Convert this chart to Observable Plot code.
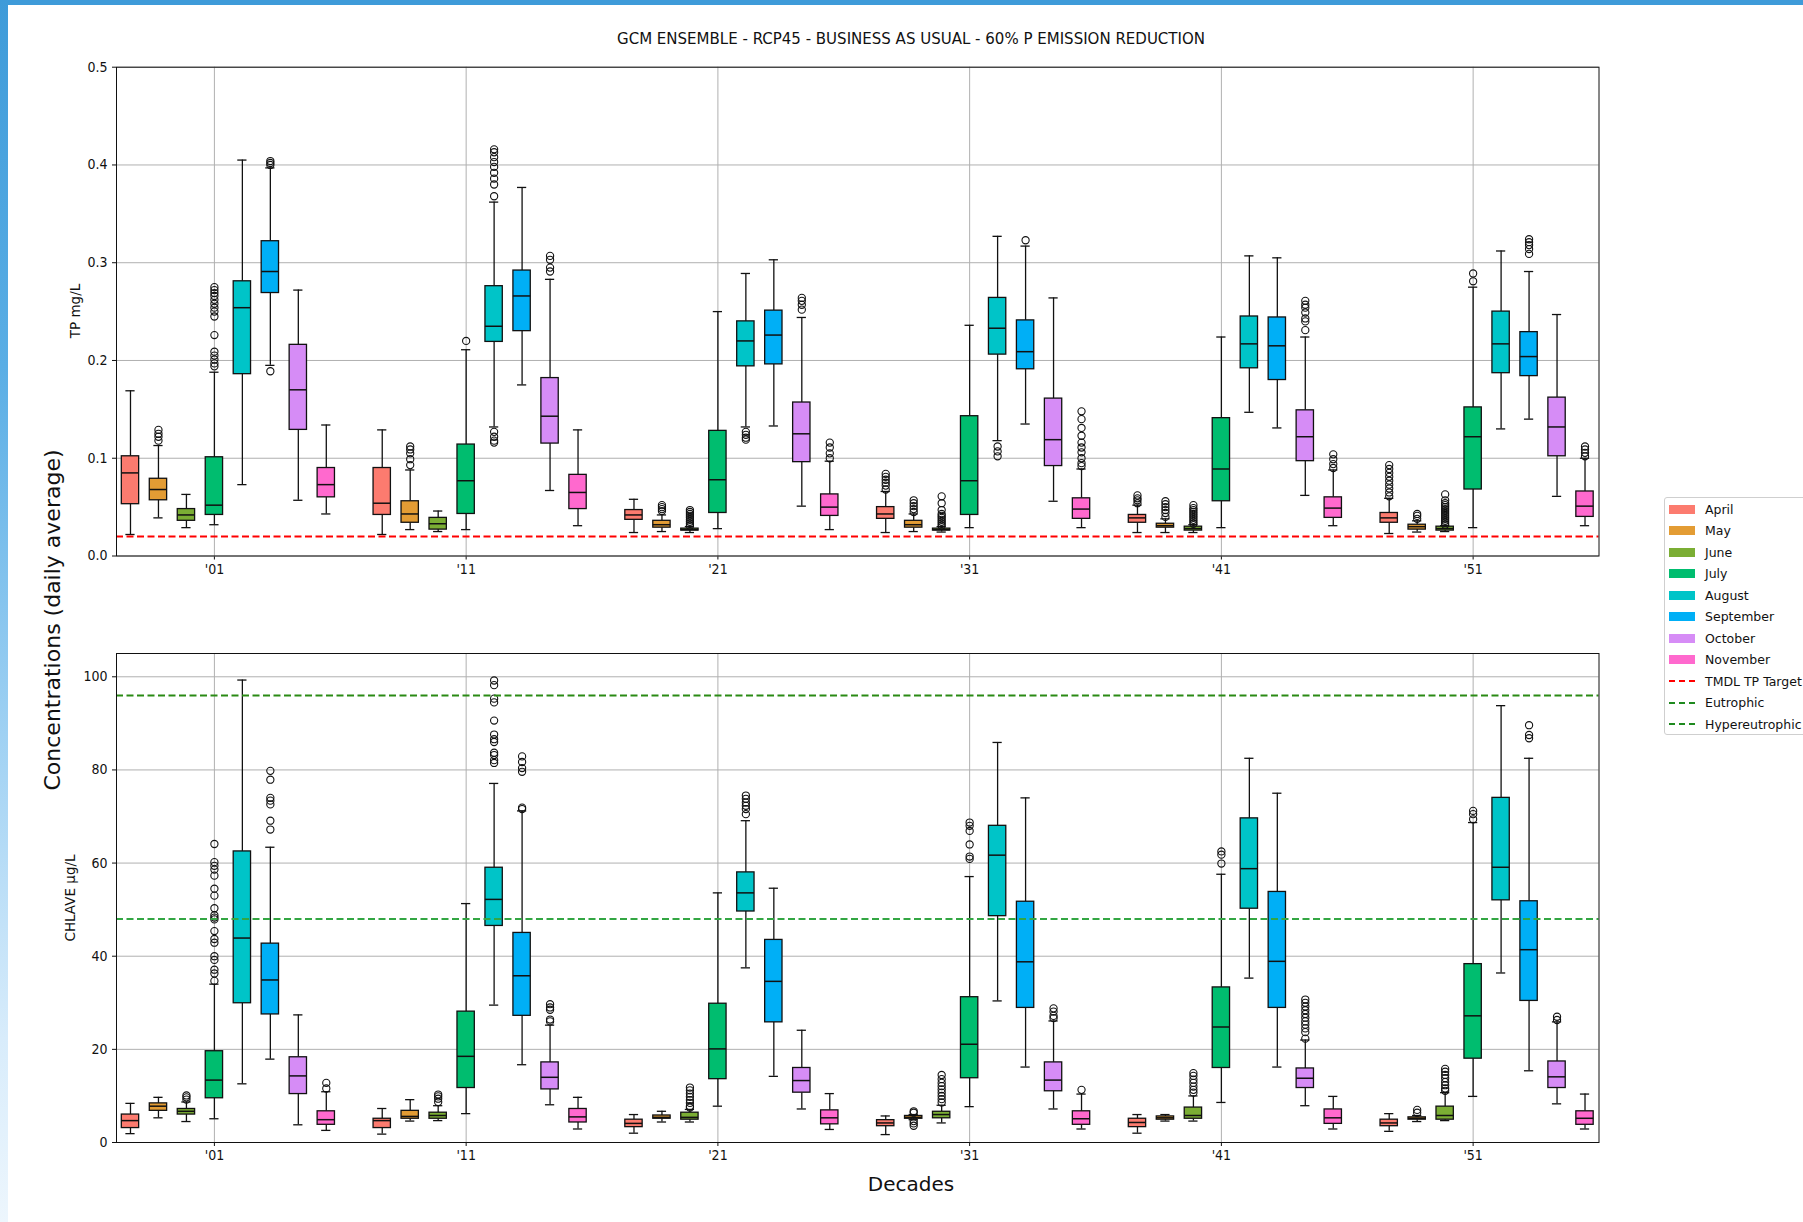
<!DOCTYPE html>
<html>
<head>
<meta charset="utf-8">
<script src="https://cdn.jsdelivr.net/npm/d3@7"></script>
<script src="https://cdn.jsdelivr.net/npm/@observablehq/plot@0.6"></script>
<style>
  html, body { margin: 0; padding: 0; }
  body { width: 1803px; height: 1222px; overflow: hidden; background: #fff; position: relative;
         font-family: "DejaVu Sans", sans-serif; color: #111; }
  #topbar { position: absolute; left: 0; top: 0; width: 1803px; height: 5px; background: #3e9bd9; }
  #leftbar { position: absolute; left: 0; top: 0; width: 8px; height: 1222px;
             background: linear-gradient(#3e9bd9 0%, #5aaee5 30%, #9fd1f3 60%, #d8ecfb 85%, #edf6fd 100%); }
  .cond { font-family: "DejaVu Sans Condensed", "DejaVu Sans", sans-serif; font-stretch: condensed; }
  #title { position: absolute; left: 911px; top: 38px; transform: translate(-50%, -50%); font-size: 16.7px; white-space: nowrap; }
  .rot { position: absolute; transform: translate(-50%, -50%) rotate(-90deg); white-space: nowrap; }
  #ylab { left: 52px; top: 620px; font-size: 22px; }
  .plab { font-size: 13.5px; }
  #xlab { position: absolute; left: 911px; top: 1184px; transform: translate(-50%, -50%); font-size: 20px; white-space: nowrap; }
  .panel { position: absolute; left: 0; }
  #legend { position: absolute; left: 1664px; top: 497px; width: 170px; height: 238px; border: 1px solid #cfcfcf;
            border-radius: 3px; background: #fff; box-sizing: border-box; }
  .item { position: absolute; left: 4px; height: 20px; display: flex; align-items: center; font-size: 12.5px; white-space: nowrap; }
  .sw { width: 26px; height: 9px; margin-right: 10px; }
  .dash { width: 26px; height: 0; border-top: 2px dashed; margin-right: 10px; }
</style>
</head>
<body>
<div id="topbar"></div>
<div id="leftbar"></div>
<div id="title" class="cond">GCM ENSEMBLE - RCP45 - BUSINESS AS USUAL - 60% P EMISSION REDUCTION</div>
<div id="panelTop" class="panel" style="top:40px"></div>
<div id="panelBottom" class="panel" style="top:620px"></div>
<div id="ylab" class="rot">Concentrations (daily average)</div>
<div class="rot plab" style="left:75px; top:311px">TP mg/L</div>
<div class="rot plab" style="left:70px; top:898px">CHLAVE µg/L</div>
<div id="xlab">Decades</div>
<div id="legend"></div>
<script>
// ---------- categories ----------
const months = ["April", "May", "June", "July", "August", "September", "October", "November"];
const monthColors = ["#fc7b6f", "#e39c34", "#7bae34", "#00bd6f", "#00c4c8", "#00aff6", "#d68cf6", "#ff69ce"];
const decades = ["'01", "'11", "'21", "'31", "'41", "'51"];
const tpTicks = [0, 0.1, 0.2, 0.3, 0.4, 0.5];
const chlTicks = [0, 20, 40, 60, 80, 100];
const tmdlTarget = [0.02];
const eutrophic = [48];
const hypereutrophic = [96];

// ---------- TP mg/L : [whisker low, Q1, median, Q3, whisker high] per decade ----------
const tpApril = [[0.022,0.053,0.085,0.102,0.169],[0.022,0.042,0.054,0.090,0.129],[0.024,0.037,0.042,0.047,0.058],[0.024,0.038,0.043,0.050,0.066],[0.024,0.034,0.039,0.042,0.052],[0.023,0.034,0.039,0.044,0.059]];
const tpMay = [[0.039,0.057,0.068,0.079,0.113],[0.027,0.034,0.043,0.056,0.088],[0.025,0.029,0.032,0.036,0.042],[0.025,0.029,0.032,0.036,0.043],[0.024,0.029,0.031,0.033,0.038],[0.0245,0.027,0.030,0.032,0.036]];
const tpJune = [[0.029,0.036,0.042,0.048,0.063],[0.025,0.027,0.033,0.039,0.046],[0.024,0.026,0.027,0.028,0.030],[0.0245,0.026,0.027,0.028,0.030],[0.024,0.026,0.028,0.030,0.032],[0.025,0.026,0.028,0.030,0.031]];
const tpJuly = [[0.032,0.042,0.052,0.101,0.188],[0.027,0.043,0.077,0.114,0.211],[0.028,0.044,0.078,0.128,0.250],[0.029,0.042,0.077,0.143,0.236],[0.029,0.056,0.089,0.141,0.224],[0.029,0.068,0.122,0.152,0.275]];
const tpAugust = [[0.073,0.186,0.254,0.281,0.405],[0.132,0.219,0.235,0.276,0.362],[0.132,0.194,0.220,0.240,0.289],[0.118,0.206,0.233,0.264,0.327],[0.147,0.192,0.217,0.245,0.307],[0.130,0.187,0.217,0.250,0.312]];
const tpSeptember = [[0.195,0.269,0.291,0.322,0.397],[0.175,0.230,0.266,0.292,0.377],[0.133,0.196,0.226,0.251,0.303],[0.135,0.191,0.209,0.241,0.317],[0.131,0.180,0.215,0.244,0.305],[0.140,0.184,0.204,0.229,0.291]];
const tpOctober = [[0.057,0.129,0.170,0.216,0.272],[0.067,0.115,0.143,0.182,0.283],[0.051,0.096,0.125,0.157,0.244],[0.056,0.092,0.119,0.161,0.264],[0.062,0.097,0.122,0.149,0.224],[0.061,0.102,0.132,0.162,0.247]];
const tpNovember = [[0.043,0.060,0.073,0.090,0.134],[0.031,0.048,0.065,0.083,0.129],[0.027,0.041,0.050,0.063,0.097],[0.029,0.038,0.048,0.059,0.089],[0.031,0.039,0.049,0.060,0.088],[0.031,0.040,0.051,0.066,0.100]];

// ---------- TP outliers per decade ----------
const tpAprilOut = [[],[],[],[0.068,0.072,0.075,0.078,0.081,0.084],[0.054,0.057,0.059,0.062],[0.061,0.065,0.069,0.073,0.077,0.081,0.085,0.089,0.093]];
const tpMayOut = [[0.118,0.122,0.125,0.129],[0.093,0.099,0.105,0.109,0.112],[0.046,0.048,0.050,0.052],[0.045,0.048,0.051,0.054,0.057],[0.040,0.044,0.047,0.050,0.053,0.056],[0.038,0.041,0.043]];
const tpJuneOut = [[],[],[0.031,0.033,0.035,0.037,0.039,0.041,0.043,0.045,0.047],[0.031,0.033,0.035,0.037,0.039,0.041,0.043,0.047,0.054,0.061],[0.033,0.035,0.037,0.039,0.041,0.043,0.045,0.047,0.049,0.052],[0.032,0.034,0.036,0.038,0.040,0.042,0.044,0.046,0.048,0.050,0.052,0.054,0.057,0.063]];
const tpJulyOut = [[0.194,0.197,0.201,0.205,0.209,0.226,0.245,0.250,0.254,0.258,0.262,0.266,0.269,0.272,0.275],[0.220],[],[],[],[0.281,0.289]];
const tpAugustOut = [[],[0.116,0.118,0.122,0.127,0.368,0.380,0.386,0.392,0.398,0.403,0.408,0.413,0.416],[0.119,0.121,0.124,0.127],[0.102,0.107,0.112],[],[]];
const tpSeptemberOut = [[0.189,0.400,0.402,0.404],[],[],[0.323],[],[0.309,0.314,0.318,0.321,0.324]];
const tpOctoberOut = [[],[0.291,0.295,0.303,0.307],[0.252,0.257,0.261,0.264],[],[0.231,0.240,0.243,0.249,0.254,0.257,0.261],[]];
const tpNovemberOut = [[],[],[0.100,0.105,0.111,0.116],[0.092,0.095,0.100,0.106,0.111,0.116,0.123,0.131,0.140,0.148],[0.090,0.094,0.099,0.104],[0.102,0.1055,0.109,0.112]];

// ---------- CHLAVE µg/L : [whisker low, Q1, median, Q3, whisker high] per decade ----------
const chlApril = [[1.9,3.1,4.7,6.0,8.4],[1.8,3.1,4.7,5.1,7.3],[2.0,3.3,4.1,4.9,6.0],[1.7,3.5,4.2,4.8,5.7],[2.0,3.3,4.3,5.1,6.0],[2.4,3.5,4.2,4.9,6.2]];
const chlMay = [[5.3,6.8,7.8,8.4,9.7],[4.6,5.1,5.6,6.8,9.2],[4.4,5.1,5.4,5.8,6.7],[4.9,5.1,5.4,5.7,6.0],[4.6,4.9,5.3,5.6,6.0],[4.5,4.9,5.2,5.4,5.8]];
const chlJune = [[4.5,6.0,6.7,7.2,8.7],[4.7,5.1,5.8,6.4,7.9],[4.4,4.9,5.4,6.4,7.1],[4.2,5.2,6.0,6.6,8.0],[4.6,5.1,5.8,7.5,10.0],[4.7,4.9,5.8,7.7,10.7]];
const chlJuly = [[5.1,9.5,13.4,19.6,34.0],[6.2,11.7,18.5,28.1,51.3],[7.8,13.6,20.1,29.8,53.6],[7.7,13.8,21.1,31.2,57.1],[8.6,16.0,24.8,33.3,57.6],[9.9,18.0,27.2,38.3,68.7]];
const chlAugust = [[12.6,29.9,43.9,62.5,99.3],[29.5,46.5,52.2,59.0,77.1],[37.5,49.6,53.6,58.0,69.1],[30.4,48.6,61.7,68.0,85.9],[35.3,50.2,58.8,69.6,82.5],[36.4,52.0,59.1,74.0,93.8]];
const chlSeptember = [[17.9,27.5,34.9,42.7,63.4],[16.7,27.2,35.8,45.0,71.2],[14.2,25.8,34.6,43.5,54.6],[16.2,28.9,38.8,51.7,74.0],[16.2,28.9,38.9,53.8,75.0],[15.4,30.4,41.4,51.8,82.5]];
const chlOctober = [[3.8,10.4,14.3,18.3,27.4],[8.1,11.4,14.0,17.2,25.2],[7.2,10.7,13.3,16.0,24.1],[7.2,11.0,13.4,17.2,26.1],[7.9,11.7,13.8,15.9,22.0],[8.3,11.7,14.1,17.4,25.9]];
const chlNovember = [[2.6,3.8,4.9,6.7,10.9],[2.9,4.3,5.5,7.2,9.7],[2.8,3.9,5.3,6.9,10.5],[2.9,3.8,5.1,6.7,10.4],[2.9,4.0,5.3,7.1,9.9],[2.9,3.8,5.2,6.7,10.4]];

// ---------- CHLAVE outliers per decade ----------
const chlAprilOut = [[],[],[],[],[],[]];
const chlMayOut = [[],[],[],[3.6,4.1,4.6,6.4,6.7],[],[6.4,7.0]];
const chlJuneOut = [[9.2,9.7,10.1],[8.7,9.4,9.9,10.3],[7.5,7.8,8.5,9.1,9.8,10.5,11.2,11.8],[8.6,9.3,10.0,10.7,11.4,12.1,12.8,13.6,14.5],[10.7,11.3,12.0,12.8,13.5,14.3,14.9],[11.1,11.6,12.3,13.0,13.8,14.5,15.2,15.8]];
const chlJulyOut = [[34.7,36.3,37.1,39.2,40.0,42.9,43.7,45.4,47.9,48.3,48.8,50.3,53.0,54.5,57.3,58.6,59.4,60.2,64.1],[],[],[60.9,61.4,64.0,66.9,68.0,68.7],[59.9,61.8,62.5],[69.4,70.5,71.2]];
const chlAugustOut = [[],[81.5,82.1,83.2,83.7,86.0,86.6,87.6,90.6,94.5,95.3,98.2,99.2],[70.5,71.6,72.3,73.0,73.8,74.5],[],[],[]];
const chlSeptemberOut = [[67.2,69.1,72.6,73.4,74.0,77.9,79.8],[71.6,71.9,79.6,80.4,81.7,82.9],[],[],[],[86.8,87.5,89.6]];
const chlOctoberOut = [[],[26.0,26.4,28.5,29.0,29.7],[],[26.7,27.2,28.1,28.8],[22.3,23.7,24.5,25.3,26.0,26.8,27.6,28.4,29.2,30.0,30.7],[26.3,27.0]];
const chlNovemberOut = [[11.6,12.8],[],[],[11.3],[],[]];

// ---------- build tables ----------
const SLOTS = 9; // 8 months + 1 gap per decade
const tickPos = decades.map((d, i) => i * SLOTS + 3);

function buildRows(stats, outs) {
  const rows = [], outRows = [];
  stats.forEach((arr, mi) => arr.forEach((s, di) => {
    const pos = di * SLOTS + mi;
    rows.push({month: months[mi], decade: decades[di], pos, lo: s[0], q1: s[1], med: s[2], q3: s[3], hi: s[4]});
    outs[mi][di].forEach(v => outRows.push({month: months[mi], pos, v}));
  }));
  return {rows, outRows};
}

const HALF = 0.31, CAP = 0.165;
const fontStyle = {fontFamily: "'DejaVu Sans Condensed', 'DejaVu Sans', sans-serif", fontStretch: "condensed",
                   fontSize: "14px", color: "#111", background: "transparent", overflow: "visible"};

function panel({stats, outs, yDomain, yTicks, yFormat, thresholds, height, marginTop, marginBottom}) {
  const {rows, outRows} = buildRows(stats, outs);
  return Plot.plot({
    width: 1640, height, marginLeft: 116, marginRight: 41.5, marginTop, marginBottom,
    style: fontStyle,
    x: {domain: [-0.5, 52.5], ticks: tickPos, tickFormat: d => decades[tickPos.indexOf(d)], tickSize: 4, tickPadding: 4, label: null},
    y: {domain: yDomain, ticks: yTicks, tickFormat: yFormat, tickSize: 4, tickPadding: 5, label: null},
    color: {domain: months, range: monthColors},
    marks: [
      Plot.ruleX(tickPos, {stroke: "#b0b0b0", strokeWidth: 1}),
      Plot.ruleY(yTicks, {stroke: "#b0b0b0", strokeWidth: 1}),
      Plot.ruleX(rows, {x: "pos", y1: "lo", y2: "q1", stroke: "#111", strokeWidth: 1.3}),
      Plot.ruleX(rows, {x: "pos", y1: "q3", y2: "hi", stroke: "#111", strokeWidth: 1.3}),
      Plot.ruleY(rows, {y: "lo", x1: d => d.pos - CAP, x2: d => d.pos + CAP, stroke: "#111", strokeWidth: 1.3}),
      Plot.ruleY(rows, {y: "hi", x1: d => d.pos - CAP, x2: d => d.pos + CAP, stroke: "#111", strokeWidth: 1.3}),
      Plot.rect(rows, {x1: d => d.pos - HALF, x2: d => d.pos + HALF, y1: "q1", y2: "q3", fill: "month", stroke: "#111", strokeWidth: 1.3}),
      Plot.ruleY(rows, {y: "med", x1: d => d.pos - HALF, x2: d => d.pos + HALF, stroke: "#111", strokeWidth: 1.5}),
      Plot.dot(outRows, {x: "pos", y: "v", r: 3.6, stroke: "#111", fill: "none", strokeWidth: 1.1}),
      ...thresholds,
      Plot.frame({stroke: "#111", strokeWidth: 1})
    ]
  });
}

const chartTop = panel({
  stats: [tpApril, tpMay, tpJune, tpJuly, tpAugust, tpSeptember, tpOctober, tpNovember],
  outs: [tpAprilOut, tpMayOut, tpJuneOut, tpJulyOut, tpAugustOut, tpSeptemberOut, tpOctoberOut, tpNovemberOut],
  yDomain: [0, 0.5], yTicks: tpTicks, yFormat: d3.format(".1f"),
  thresholds: [Plot.ruleY(tmdlTarget, {stroke: "red", strokeWidth: 2, strokeDasharray: "7,3.5"})],
  height: 560, marginTop: 26.7, marginBottom: 44.5
});
document.getElementById("panelTop").appendChild(chartTop);

const chartBottom = panel({
  stats: [chlApril, chlMay, chlJune, chlJuly, chlAugust, chlSeptember, chlOctober, chlNovember],
  outs: [chlAprilOut, chlMayOut, chlJuneOut, chlJulyOut, chlAugustOut, chlSeptemberOut, chlOctoberOut, chlNovemberOut],
  yDomain: [0, 105], yTicks: chlTicks, yFormat: d3.format("d"),
  thresholds: [
    Plot.ruleY(eutrophic, {stroke: "#33a643", strokeWidth: 2, strokeDasharray: "7,3.5"}),
    Plot.ruleY(hypereutrophic, {stroke: "#2a8a14", strokeWidth: 2, strokeDasharray: "7,3.5"})
  ],
  height: 560, marginTop: 33, marginBottom: 38
});
document.getElementById("panelBottom").appendChild(chartBottom);

// ---------- legend ----------
const legendBox = document.getElementById("legend");
const lineEntries = [["TMDL TP Target", "red"], ["Eutrophic", "#1f8a1f"], ["Hypereutrophic", "#1f8a1f"]];
months.forEach((m, i) => {
  const it = document.createElement("div");
  it.className = "item";
  it.style.top = (1 + i * 21.5) + "px";
  it.innerHTML = `<span class="sw" style="background:${monthColors[i]}"></span><span>${m}</span>`;
  legendBox.appendChild(it);
});
lineEntries.forEach(([name, c], j) => {
  const it = document.createElement("div");
  it.className = "item";
  it.style.top = (1 + (months.length + j) * 21.5) + "px";
  it.innerHTML = `<span class="dash" style="border-color:${c}"></span><span>${name}</span>`;
  legendBox.appendChild(it);
});
</script>
</body>
</html>
